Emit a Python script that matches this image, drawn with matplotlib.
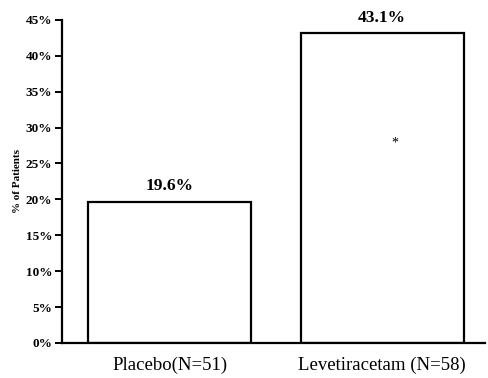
import matplotlib
matplotlib.use("Agg")
import matplotlib.pyplot as plt
from matplotlib.ticker import PercentFormatter

groups = ["Placebo(N=51)", "Levetiracetam (N=58)"]
responders = [19.6, 43.1]
value_labels = ["19.6%", "43.1%"]
yticks = [0, 5, 10, 15, 20, 25, 30, 35, 40, 45]

plt.rcParams["font.family"] = ["Liberation Serif", "DejaVu Serif"]

fig = plt.figure(figsize=(4.89, 3.78), dpi=100)
ax = fig.add_axes([0.127, 0.0926, 0.865, 0.855])

x = range(len(groups))
bars = ax.bar(x, responders, width=0.767, color="white", edgecolor="black", linewidth=1.6)

for xi, v, lab in zip(x, responders, value_labels):
    ax.text(xi, v + 1.1, lab, ha="center", va="bottom", fontsize=12.5, fontweight="bold")

# significance marker
ax.text(1.06, 27.9, "*", ha="center", va="center", fontsize=10)

ax.set_xlim(-0.506, 1.485)
ax.set_ylim(0, 45)
ax.set_yticks(yticks)
ax.yaxis.set_major_formatter(PercentFormatter(decimals=0))
ax.set_xticks(list(x))
ax.set_xticklabels(groups, fontsize=13.5)
ax.tick_params(axis="x", length=0, pad=10)
ax.tick_params(axis="y", length=5, width=1.4, labelsize=9.5, pad=2)
for lab in ax.get_yticklabels():
    lab.set_fontweight("bold")
ax.set_ylabel("% of Patients", fontsize=8, fontweight="bold", labelpad=3)

ax.spines["top"].set_visible(False)
ax.spines["right"].set_visible(False)
ax.spines["left"].set_linewidth(1.6)
ax.spines["bottom"].set_linewidth(1.6)

fig.savefig("out.png", dpi=100)
